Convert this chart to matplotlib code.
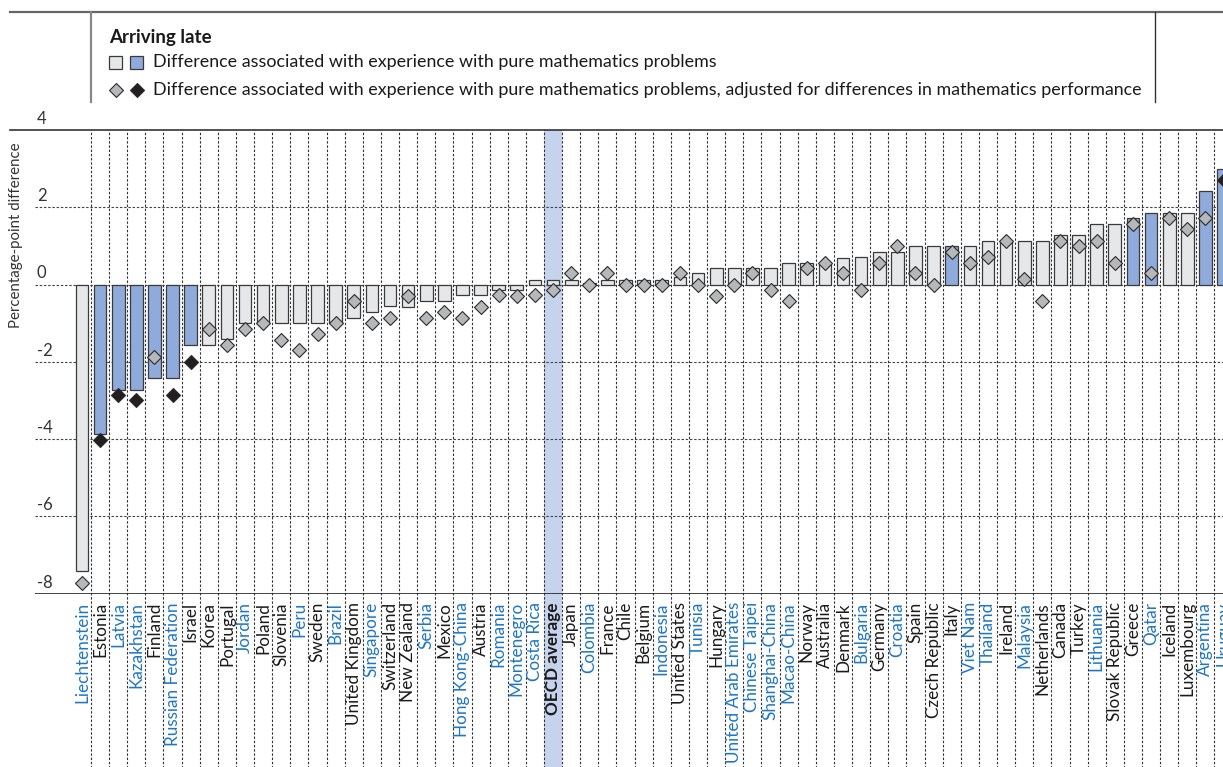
import matplotlib
matplotlib.use("Agg")
import matplotlib.pyplot as plt
from matplotlib.transforms import blended_transform_factory
from matplotlib.lines import Line2D
from matplotlib.patches import Rectangle

plt.rcParams["font.family"] = ["Lato", "DejaVu Sans"]

countries = [
    "Liechtenstein", "Estonia", "Latvia", "Kazakhstan", "Finland", "Russian Federation",
    "Israel", "Korea", "Portugal", "Jordan", "Poland", "Slovenia", "Peru", "Sweden",
    "Brazil", "United Kingdom", "Singapore", "Switzerland", "New Zealand", "Serbia",
    "Mexico", "Hong Kong-China", "Austria", "Romania", "Montenegro", "Costa Rica",
    "OECD average", "Japan", "Colombia", "France", "Chile", "Belgium", "Indonesia",
    "United States", "Tunisia", "Hungary", "United Arab Emirates", "Chinese Taipei",
    "Shanghai-China", "Macao-China", "Norway", "Australia", "Denmark", "Bulgaria",
    "Germany", "Croatia", "Spain", "Czech Republic", "Italy", "Viet Nam", "Thailand",
    "Ireland", "Malaysia", "Netherlands", "Canada", "Turkey", "Lithuania",
    "Slovak Republic", "Greece", "Qatar", "Iceland", "Luxembourg", "Argentina", "Uruguay",
]

# difference associated with experience with pure mathematics problems
diff = [
    -7.42, -3.86, -2.72, -2.72, -2.41, -2.41, -1.57, -1.57, -1.42, -0.99, -0.99, -0.99,
    -0.99, -0.99, -0.99, -0.86, -0.70, -0.56, -0.57, -0.43, -0.43, -0.28, -0.28, -0.14,
    -0.14, 0.13, 0.13, 0.13, 0.05, 0.13, 0.13, 0.13, 0.13, 0.20, 0.29, 0.42, 0.42, 0.42,
    0.42, 0.57, 0.57, 0.57, 0.70, 0.71, 0.85, 0.85, 1.0, 1.0, 1.0, 1.0, 1.14, 1.14,
    1.14, 1.14, 1.28, 1.28, 1.57, 1.57, 1.72, 1.86, 1.86, 1.86, 2.42, 2.99,
]

# same, adjusted for differences in mathematics performance
adjusted = [
    -7.72, -4.01, -2.86, -2.99, -1.87, -2.86, -2.0, -1.15, -1.57, -1.14, -1.0, -1.44,
    -1.70, -1.28, -0.99, -0.42, -0.99, -0.86, -0.29, -0.87, -0.71, -0.87, -0.57, -0.28,
    -0.29, -0.28, -0.14, 0.29, 0.0, 0.29, 0.0, 0.0, 0.0, 0.29, 0.0, -0.29, 0.0, 0.29,
    -0.14, -0.43, 0.42, 0.57, 0.29, -0.14, 0.57, 1.0, 0.29, 0.0, 0.85, 0.57, 0.72, 1.14,
    0.14, -0.43, 1.14, 1.0, 1.14, 0.57, 1.57, 0.29, 1.72, 1.43, 1.72, 2.71,
]

bar_significant = {"Estonia", "Latvia", "Kazakhstan", "Finland", "Russian Federation",
                   "Israel", "Italy", "Greece", "Qatar", "Argentina", "Uruguay"}
adj_significant = {"Estonia", "Latvia", "Kazakhstan", "Russian Federation", "Israel",
                   "Uruguay"}
partners = {"Liechtenstein", "Latvia", "Kazakhstan", "Russian Federation", "Jordan", "Peru",
            "Brazil", "Singapore", "Serbia", "Hong Kong-China", "Romania", "Montenegro",
            "Costa Rica", "Colombia", "Indonesia", "Tunisia", "United Arab Emirates",
            "Chinese Taipei", "Shanghai-China", "Macao-China", "Bulgaria", "Croatia",
            "Viet Nam", "Thailand", "Malaysia", "Lithuania", "Qatar", "Argentina", "Uruguay"}

yticks = [4, 2, 0, -2, -4, -6, -8]

GREY_BAR = "#e6e7e8"
BLUE_BAR = "#8fabdb"
GREY_DIA = "#b6b7b9"
BLACK_DIA = "#231f20"
BLUE_TXT = "#1f76c2"
DASH = (0, (2.2, 1.6))

W, H = 1223, 767
fig = plt.figure(figsize=(W / 100, H / 100), dpi=100)
ax_left, ax_right, ax_top, ax_bot = 35, 1223, 130, 593.7
ax = fig.add_axes([ax_left / W, 1 - ax_bot / H, (ax_right - ax_left) / W, (ax_bot - ax_top) / H])
ax.set_xlim(-2.59, 62.97)
ax.set_ylim(-8, 4)
ax.axis("off")

x = list(range(len(countries)))
below = -(H - ax_bot) / (ax_bot - ax_top) - 0.01
trans = blended_transform_factory(ax.transData, ax.transAxes)

# OECD average highlight, runs through the label area
i_oecd = countries.index("OECD average")
ax.add_patch(Rectangle((i_oecd - 0.5, below), 1, 1 - below, transform=trans,
                       facecolor="#c6d3ec", edgecolor="none", clip_on=False, zorder=0))

# vertical separators
for i in range(len(countries) - 1):
    ax.plot([i + 0.5, i + 0.5], [below, 1], transform=trans, color="#333333",
            lw=0.8, ls=DASH, clip_on=False, zorder=1)

# horizontal grid
for v in yticks[1:-1]:
    ax.axhline(v, color="#444444", lw=0.8, ls=DASH, zorder=1)
ax.axhline(-8, color="#222222", lw=1.2, zorder=3)
fig.add_artist(Line2D([10 / W, 1], [1 - ax_top / H] * 2, color="#333333", lw=1.2))

ytrans = blended_transform_factory(ax.transAxes, ax.transData)
for v in yticks:
    ax.text(0.0015, v + 0.08, str(v), transform=ytrans,
            ha="left", va="bottom", fontsize=12, color="#333333")

bar_colors = [BLUE_BAR if c in bar_significant else GREY_BAR for c in countries]
ax.bar(x, diff, width=0.7, color=bar_colors, edgecolor="#3a3a3a", linewidth=0.9, zorder=2)

for i, c in enumerate(countries):
    fc = BLACK_DIA if c in adj_significant else GREY_DIA
    ax.plot(i, adjusted[i], marker="D", ms=7.2, mfc=fc, mec="#2a2a2a", mew=0.8,
            ls="none", zorder=4, clip_on=False)

for i, c in enumerate(countries):
    color = BLUE_TXT if c in partners else "#1a1a1a"
    weight = "bold" if c == "OECD average" else "normal"
    ax.text(i, -0.018, c, transform=trans, rotation=90, ha="center", va="top",
            fontsize=12.3, color=color, fontweight=weight, clip_on=False)

fig.text(16 / W, 1 - 235 / H, "Percentage-point difference", rotation=90,
         ha="center", va="center", fontsize=10.8, color="#333333")

# legend box
fig.add_artist(Line2D([10 / W, 1], [1 - 12 / H] * 2, color="#666666", lw=1.6))
fig.add_artist(Line2D([91 / W] * 2, [1 - 12 / H, 1 - 102 / H], color="#888888", lw=1.6))
fig.add_artist(Line2D([1155 / W] * 2, [1 - 12 / H, 1 - 102 / H], color="#333333", lw=1.0))
fig.text(109 / W, 1 - 37 / H, "Arriving late", fontsize=13.5, fontweight="bold",
         ha="left", va="center", color="#1a1a1a")
for px, fc in [(115.5, GREY_BAR), (136.5, BLUE_BAR)]:
    fig.add_artist(Rectangle(((px - 6.5) / W, 1 - 69 / H), 13 / W, 13 / H,
                             facecolor=fc, edgecolor="#3a3a3a", lw=0.9))
for px, fc in [(115.5, GREY_DIA), (136.5, BLACK_DIA)]:
    fig.add_artist(Line2D([px / W], [1 - 90 / H], marker="D", ms=7.2, mfc=fc,
                          mec="#2a2a2a", mew=0.8, ls="none"))
fig.text(153 / W, 1 - 62 / H, "Difference associated with experience with pure mathematics problems",
         fontsize=12.85, ha="left", va="center", color="#1a1a1a")
fig.text(153 / W, 1 - 90 / H,
         "Difference associated with experience with pure mathematics problems, "
         "adjusted for differences in mathematics performance",
         fontsize=12.85, ha="left", va="center", color="#1a1a1a")

fig.savefig("out.png", dpi=100)
